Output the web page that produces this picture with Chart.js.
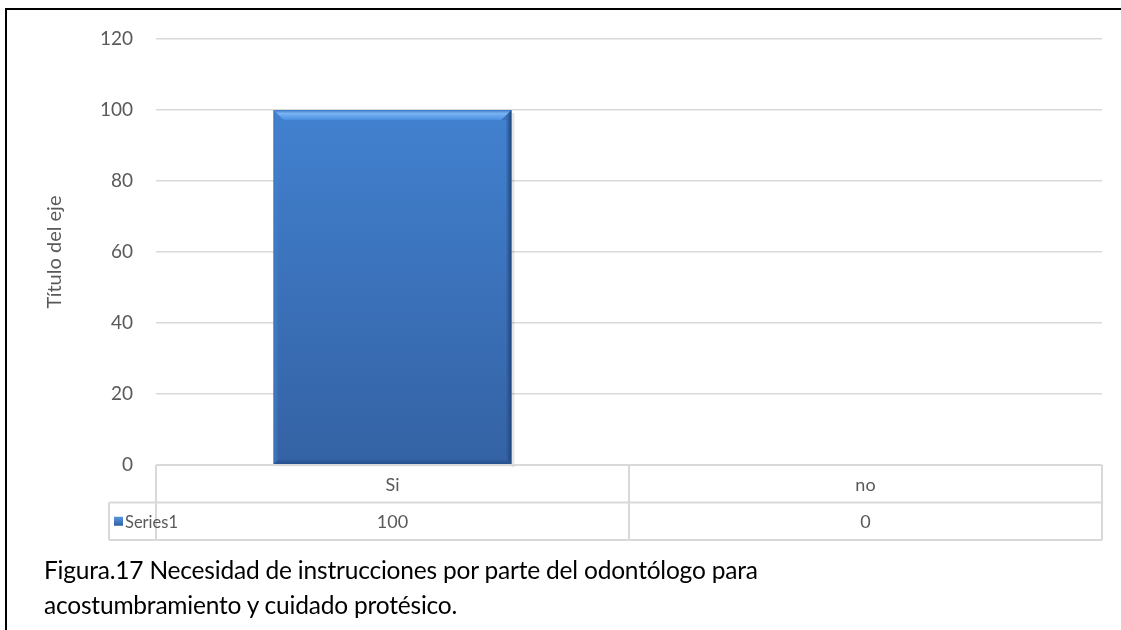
<!DOCTYPE html>
<html>
<head>
<meta charset="utf-8">
<script src="https://cdn.jsdelivr.net/npm/chart.js@4/dist/chart.umd.min.js"></script>
<style>
  html, body { margin: 0; padding: 0; background: #fff; }
  #wrap { position: relative; width: 1121px; height: 630px; overflow: hidden; }
  #frame { position: absolute; left: 5px; top: 8px; width: 1200px; height: 700px;
           border-top: 2px solid #000; border-left: 2px solid #000; box-sizing: border-box; }
  canvas { position: absolute; left: 0; top: 0; }
  #caption { position: absolute; left: 44px; top: 552px; font-family: Lato, sans-serif;
             font-size: 24.5px; line-height: 35px; color: #000; white-space: nowrap; letter-spacing: -0.2px; }
</style>
</head>
<body>
<div id="wrap">
  <div id="frame"></div>
  <canvas id="c" width="1121" height="630"></canvas>
  <div id="caption">Figura.17 Necesidad de instrucciones por parte del odontólogo para<br>acostumbramiento y cuidado protésico.</div>
</div>
<script>
// Categories, series and axis values
const categories = ['Si', 'no'];
const seriesName = 'Series1';
const values = [100, 0];
const yTitle = 'Título del eje';
const yMin = 0;
const yMax = 120;
const yStep = 20;

const GRID = '#d9d9d9';
const TEXT = '#595959';
const FONT = 'Lato, sans-serif';
const ROW_H = 37.5;
const KEY_LEFT = 109;

function barGradient(ctx, area) {
  const g = ctx.createLinearGradient(0, area.top, 0, area.bottom);
  g.addColorStop(0, '#4487d8');
  g.addColorStop(1, '#3462a4');
  return g;
}

// Bevelled edges drawn over each bar element
const bevelPlugin = {
  id: 'bevel',
  afterDatasetsDraw(chart) {
    const ctx = chart.ctx;
    chart.getDatasetMeta(0).data.forEach(bar => {
      const p = bar.getProps(['x', 'y', 'base', 'width'], true);
      const l = p.x - p.width / 2, r = p.x + p.width / 2;
      const t = Math.min(p.y, p.base), b = Math.max(p.y, p.base);
      if (b - t < 1) return;
      const bv = 10, sv = 5;
      ctx.save();
      // soft shadow
      ctx.fillStyle = 'rgba(0,0,0,0.10)';
      ctx.fillRect(r, t + 3, 3, b - t);
      ctx.fillRect(l + 2, b, r - l, 2);
      // top highlight
      let g = ctx.createLinearGradient(0, t, 0, t + bv);
      g.addColorStop(0, '#3b78c6');
      g.addColorStop(0.35, '#78b4f4');
      g.addColorStop(1, '#4a8ede');
      ctx.fillStyle = g;
      ctx.beginPath();
      ctx.moveTo(l, t); ctx.lineTo(r, t); ctx.lineTo(r - bv, t + bv); ctx.lineTo(l + bv, t + bv); ctx.closePath();
      ctx.fill();
      // left edge
      g = ctx.createLinearGradient(l, 0, l + sv, 0);
      g.addColorStop(0, '#3a74bd');
      g.addColorStop(1, 'rgba(80,140,215,0.0)');
      ctx.fillStyle = g;
      ctx.beginPath();
      ctx.moveTo(l, t); ctx.lineTo(l + bv, t + bv); ctx.lineTo(l + sv, t + bv); ctx.lineTo(l + sv, b - sv); ctx.lineTo(l, b); ctx.closePath();
      ctx.fill();
      // right edge
      g = ctx.createLinearGradient(r - sv, 0, r, 0);
      g.addColorStop(0, 'rgba(40,80,140,0.3)');
      g.addColorStop(1, '#1f4478');
      ctx.fillStyle = g;
      ctx.beginPath();
      ctx.moveTo(r, t); ctx.lineTo(r, b); ctx.lineTo(r - sv, b - sv); ctx.lineTo(r - sv, t + bv); ctx.lineTo(r - bv, t + bv); ctx.closePath();
      ctx.fill();
      // bottom edge
      g = ctx.createLinearGradient(0, b - sv, 0, b);
      g.addColorStop(0, 'rgba(40,80,140,0.2)');
      g.addColorStop(1, '#24508c');
      ctx.fillStyle = g;
      ctx.beginPath();
      ctx.moveTo(l, b); ctx.lineTo(r, b); ctx.lineTo(r - sv, b - sv); ctx.lineTo(l + sv, b - sv); ctx.closePath();
      ctx.fill();
      ctx.restore();
    });
  }
};

// Data table below the plot area
const dataTablePlugin = {
  id: 'dataTable',
  afterDraw(chart) {
    const ctx = chart.ctx;
    const area = chart.chartArea;
    const xs = chart.scales.x;
    const top = area.bottom;
    const mid = top + ROW_H;
    const bot = mid + ROW_H;
    const half = (area.right - area.left) / categories.length / 2;
    ctx.save();
    ctx.strokeStyle = GRID;
    ctx.lineWidth = 2;
    ctx.beginPath();
    ctx.moveTo(area.left, top); ctx.lineTo(area.right, top);
    ctx.moveTo(KEY_LEFT, mid); ctx.lineTo(area.right, mid);
    ctx.moveTo(KEY_LEFT, bot); ctx.lineTo(area.right, bot);
    ctx.moveTo(KEY_LEFT, mid); ctx.lineTo(KEY_LEFT, bot);
    ctx.moveTo(area.left, top); ctx.lineTo(area.left, bot);
    categories.forEach((c, i) => {
      const x = xs.getPixelForValue(i) + half;
      ctx.moveTo(x, top); ctx.lineTo(x, bot);
    });
    ctx.stroke();

    ctx.fillStyle = TEXT;
    ctx.font = '18px ' + FONT;
    ctx.textAlign = 'center';
    ctx.textBaseline = 'middle';
    categories.forEach((c, i) => {
      const x = xs.getPixelForValue(i);
      ctx.fillText(c, x, (top + mid) / 2 + 1);
      ctx.fillText(String(values[i]), x, (mid + bot) / 2 + 1);
    });
    // series key
    const ky = (mid + bot) / 2;
    const kg = ctx.createLinearGradient(0, ky - 5, 0, ky + 5);
    kg.addColorStop(0, '#5a9ae6');
    kg.addColorStop(1, '#2f5d9d');
    ctx.fillStyle = kg;
    ctx.fillRect(KEY_LEFT + 5, ky - 4.5, 9, 9);
    ctx.fillStyle = TEXT;
    ctx.textAlign = 'left';
    ctx.font = '16.5px ' + FONT;
    ctx.fillText(seriesName, KEY_LEFT + 16, ky + 1);
    ctx.restore();
  }
};

new Chart(document.getElementById('c'), {
  type: 'bar',
  data: {
    labels: categories,
    datasets: [{
      label: seriesName,
      data: values,
      backgroundColor: (c) => {
        const area = c.chart.chartArea;
        if (!area) return '#3d78c4';
        return barGradient(c.chart.ctx, area);
      },
      borderWidth: 0,
      barPercentage: 0.503,
      categoryPercentage: 1.0
    }]
  },
  options: {
    responsive: false,
    animation: false,
    devicePixelRatio: 1,
    layout: { padding: { left: 0, right: 19, top: 39, bottom: 165 } },
    plugins: { legend: { display: false }, tooltip: { enabled: false } },
    scales: {
      x: { display: false },
      y: {
        min: yMin, max: yMax,
        afterFit: (s) => { s.width = 156; },
        border: { display: false },
        grid: { color: GRID, lineWidth: 1.5, drawTicks: false },
        ticks: { stepSize: yStep, padding: 23, color: TEXT, font: { family: FONT, size: 19 } },
        title: { display: true, text: yTitle, color: TEXT, padding: { top: 43, bottom: 0 },
                 font: { family: FONT, size: 20 } }
      }
    }
  },
  plugins: [bevelPlugin, dataTablePlugin]
});
</script>
</body>
</html>
